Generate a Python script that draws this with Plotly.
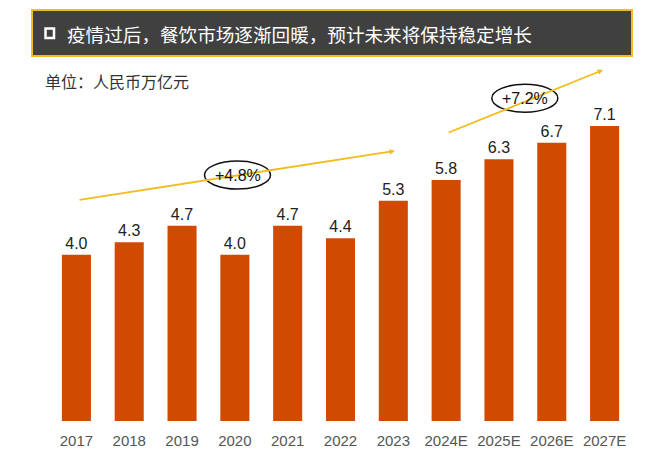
import plotly.graph_objects as go

categories = ["2017", "2018", "2019", "2020", "2021", "2022", "2023",
              "2024E", "2025E", "2026E", "2027E"]
values = [4.0, 4.3, 4.7, 4.0, 4.7, 4.4, 5.3, 5.8, 6.3, 6.7, 7.1]
growth_labels = ["+4.8%", "+7.2%"]
title_text = "疫情过后，餐饮市场逐渐回暖，预计未来将保持稳定增长"
unit_text = "单位：人民币万亿元"

BAR = "#D04A02"
GOLD = "#F2BC1B"
LAT = "Liberation Sans, Arial, sans-serif"
CJK = "Noto Sans CJK SC, sans-serif"

W, H = 660, 465
ML, MR, MT, MB = 50, 29, 60, 44
PW = W - ML - MR
PH = H - MT - MB
YMAX = 8.69


def px(xp):
    return (xp - ML) / PW


def py(yp):
    return (H - MB - yp) / PH


fig = go.Figure(go.Bar(
    x=categories, y=values, marker=dict(color=BAR, line=dict(width=0)),
    texttemplate="%{y:.1f}", textposition="outside",
    textfont=dict(family=LAT, size=16, color="#222222"),
    cliponaxis=False, width=0.55,
))

shapes = [
    # title bar
    dict(type="rect", xref="paper", yref="paper", x0=px(32), x1=px(632),
         y0=py(56), y1=py(10), fillcolor="#404040",
         line=dict(color=GOLD, width=2), layer="above"),
    # square icon
    dict(type="rect", xref="paper", yref="paper", x0=px(45.5), x1=px(54),
         y0=py(38), y1=py(28.5), fillcolor="rgba(0,0,0,0)",
         line=dict(color="white", width=2.5), layer="above"),
]

# ellipses around growth labels
ell = [(3.05, 5.92), (8.49, 7.77)]
for (cx, cy) in ell:
    shapes.append(dict(type="circle", xref="x", yref="y",
                       xsizemode="pixel", ysizemode="pixel",
                       xanchor=cx, yanchor=cy, x0=-33, x1=33, y0=-14, y1=14,
                       fillcolor="white", line=dict(color="#111111", width=1.5),
                       layer="above"))

annotations = [
    dict(xref="paper", yref="paper", x=px(65), y=py(33), xanchor="left",
         yanchor="middle", text=title_text, showarrow=False,
         font=dict(family=CJK, size=18.6, color="white")),
    dict(xref="paper", yref="paper", x=px(43), y=py(81), xanchor="left",
         yanchor="middle", text=unit_text, showarrow=False,
         font=dict(family=CJK, size=16, color="#333333")),
    # growth arrows
    dict(xref="x", yref="y", axref="x", ayref="y",
         x=6.03, y=6.50, ax=0.03, ay=5.32, text="", showarrow=True,
         arrowhead=2, arrowsize=0.6, arrowwidth=1.8, arrowcolor=GOLD),
    dict(xref="x", yref="y", axref="x", ayref="y",
         x=9.97, y=8.45, ax=7.02, ay=6.93, text="", showarrow=True,
         arrowhead=2, arrowsize=0.6, arrowwidth=1.8, arrowcolor=GOLD),
]
for (cx, cy), lab in zip(ell, growth_labels):
    annotations.append(dict(xref="x", yref="y", x=cx, y=cy, text=lab,
                            showarrow=False, xanchor="center", yanchor="middle",
                            font=dict(family=LAT, size=16, color="#111111")))

fig.update_layout(
    width=W, height=H, margin=dict(l=ML, r=MR, t=MT, b=MB, pad=0),
    paper_bgcolor="white", plot_bgcolor="white", showlegend=False,
    bargap=0.45,
    xaxis=dict(type="category", range=[-0.5, 10.5], showgrid=False,
               showline=False, zeroline=False, ticks="",
               ticklabelstandoff=9,
               tickfont=dict(family=LAT, size=15, color="#555555")),
    yaxis=dict(range=[0, YMAX], visible=False),
    shapes=shapes, annotations=annotations,
)

fig.write_html(
    "out.html",
    config={"displayModeBar": False},
    post_script="document.body.style.margin='0';document.body.style.overflow='hidden';",
)
